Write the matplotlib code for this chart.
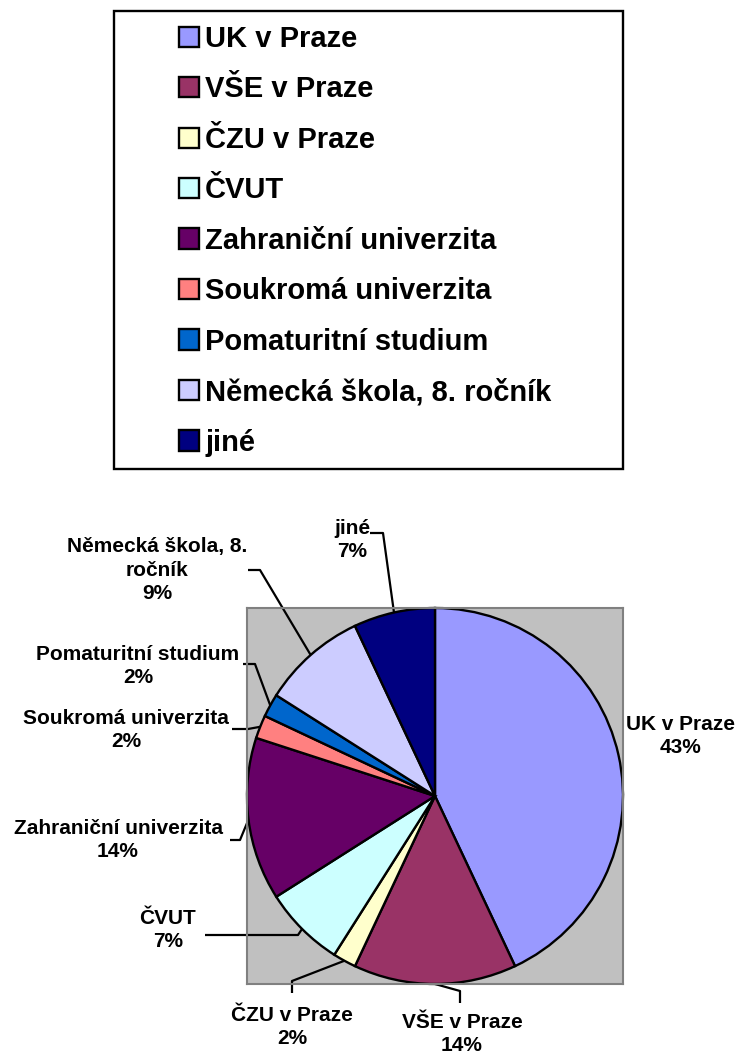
import numpy as np
import matplotlib
matplotlib.use("Agg")
import matplotlib.pyplot as plt
from matplotlib.patches import Rectangle

plt.rcParams['font.family'] = ['Liberation Sans', 'DejaVu Sans']
plt.rcParams['font.weight'] = 'bold'

labels = ['UK v Praze', 'VŠE v Praze', 'ČZU v Praze', 'ČVUT', 'Zahraniční univerzita',
          'Soukromá univerzita', 'Pomaturitní studium', 'Německá škola, 8. ročník', 'jiné']
pie_labels = ['UK v Praze', 'VŠE v Praze', 'ČZU v Praze', 'ČVUT', 'Zahraniční univerzita',
              'Soukromá univerzita', 'Pomaturitní studium', 'Německá škola, 8.\nročník', 'jiné']
values = [43, 14, 2, 7, 14, 2, 2, 9, 7]
colors = ['#9999FF', '#993366', '#FFFFCC', '#CCFFFF', '#660066',
          '#FF8080', '#0066CC', '#CCCCFF', '#000080']

W, H = 737, 1056
fig = plt.figure(figsize=(W / 100, H / 100), dpi=100)

# pie plot area (pixels: 247..623 x 608..984)
ax = fig.add_axes([247 / W, (H - 984) / H, 376 / W, 376 / H])
wedges, _ = ax.pie(values, colors=colors, startangle=90, counterclock=False, radius=1,
                   wedgeprops=dict(edgecolor='black', linewidth=1.7))
ax.set_xlim(-1, 1)
ax.set_ylim(-1, 1)
ax.set_frame_on(True)
ax.set_facecolor('#C0C0C0')
for sp in ax.spines.values():
    sp.set_color('#808080')
    sp.set_linewidth(1.5)
ax.set_xticks([])
ax.set_yticks([])

cx, cy, R = 435, 796, 188


def px(x, y):
    return (x - cx) / R, (cy - y) / R


# label layout in pixels: text centre, leader line points (start, elbow) or None
layout = [
    ((680, 736), None),
    ((462, 1034), [(460, 1003), (460, 991)]),
    ((292, 1027), [(292, 993), (292, 981)]),
    ((168, 930), [(205, 935), (298, 935)]),
    ((118, 840), [(230, 840), (240, 840)]),
    ((126, 730), [(232, 729), (248, 729)]),
    ((138, 666), [(243, 664), (255, 664)]),
    ((157, 570), [(248, 570), (260, 570)]),
    ((352, 540), [(370, 533), (383, 533)]),
]

total = sum(values)
for w, lab, v, (tpos, leader) in zip(wedges, pie_labels, values, layout):
    tx, ty = px(*tpos)
    ax.text(tx, ty, f"{lab}\n{round(100 * v / total)}%", ha='center', va='center',
            multialignment='center', fontsize=15, fontweight='bold', linespacing=1.28,
            clip_on=False)
    if leader:
        mid = np.deg2rad((w.theta1 + w.theta2) / 2)
        pts = [px(*p) for p in leader] + [(np.cos(mid), np.sin(mid))]
        xs, ys = zip(*pts)
        ax.plot(xs, ys, color='black', lw=1.6, clip_on=False, solid_capstyle='butt')

# legend with its frame
fig.add_artist(Rectangle((114 / W, 1 - 469 / H), (623 - 114) / W, (469 - 11) / H,
                         transform=fig.transFigure, fill=False, ec='black', lw=1.7))
fig.legend(wedges, labels, loc='upper left', bbox_to_anchor=(179 / W, 1 - 25 / H),
           frameon=False, borderpad=0, borderaxespad=0,
           prop={'weight': 'bold', 'size': 21},
           handlelength=0.7, handleheight=0.7, handletextpad=0.2, labelspacing=0.77)

fig.savefig('out.png', dpi=100)
